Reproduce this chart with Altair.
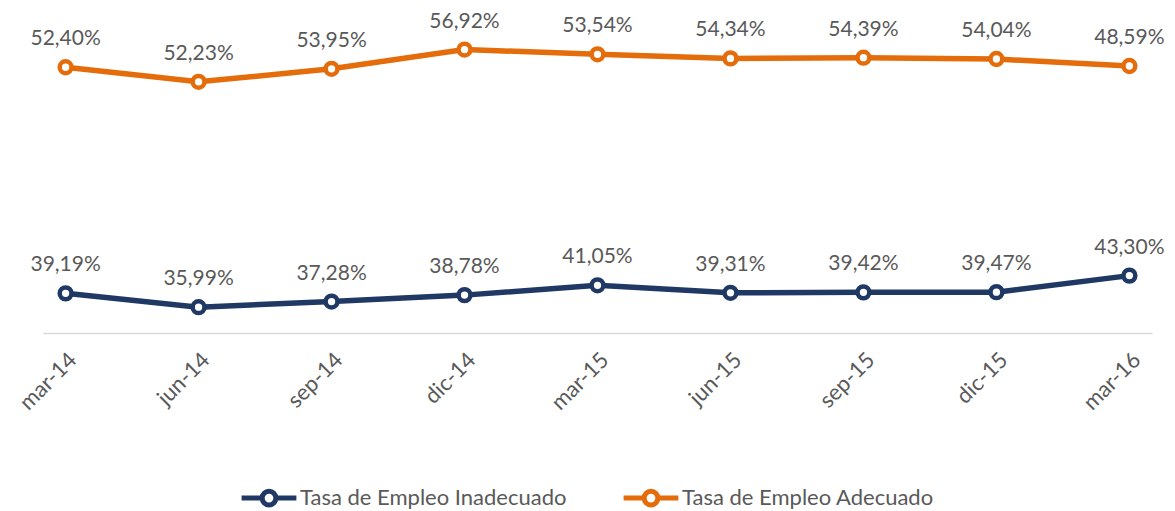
import altair as alt
import pandas as pd

periods = ["mar-14", "jun-14", "sep-14", "dic-14", "mar-15", "jun-15", "sep-15", "dic-15", "mar-16"]
inadecuado = [39.19, 35.99, 37.28, 38.78, 41.05, 39.31, 39.42, 39.47, 43.30]
adecuado = [52.40, 52.23, 53.95, 56.92, 53.54, 54.34, 54.39, 54.04, 48.59]
series_names = ["Tasa de Empleo Inadecuado", "Tasa de Empleo Adecuado"]
colors = ["#1F3864", "#E46C0A"]

rows = []
for i, p in enumerate(periods):
    for order, (name, vals) in enumerate(zip(series_names, [inadecuado, adecuado])):
        v = vals[i]
        rows.append({"periodo": p, "serie": name, "valor": v, "ord": order,
                     "etiqueta": f"{v:.2f}".replace(".", ",") + "%"})
df = pd.DataFrame(rows)

FONT = "Lato"
TXT = "#595959"

base = alt.Chart(df).transform_window(
    acum="sum(valor)", groupby=["periodo"], sort=[alt.SortField("ord")], frame=[None, 0]
)

x = alt.X("periodo:N", sort=periods, title=None,
          scale=alt.Scale(type="point", padding=0.17),
          axis=alt.Axis(labelAngle=-45, labelFontSize=22, labelColor=TXT, labelFont=FONT,
                        ticks=False, domainColor="#D9D9D9", domainWidth=1.5, labelPadding=16,
                        grid=False))
y = alt.Y("acum:Q", scale=alt.Scale(domain=[30, 100], nice=False, zero=False), axis=None)
color = alt.Color("serie:N", sort=series_names,
                  scale=alt.Scale(domain=series_names, range=colors),
                  legend=alt.Legend(title=None, orient="none", direction="horizontal",
                                    legendX=196, legendY=437,
                                    labelFont=FONT, labelFontSize=22, labelColor=TXT,
                                    labelLimit=500,
                                    symbolType="M-1,0H-0.25M0.25,0H1M0.25,0A0.25,0.25 0 1,1 -0.25,0A0.25,0.25 0 1,1 0.25,0Z",
                                    symbolSize=3000, symbolStrokeWidth=5, symbolFillColor="white",
                                    columnPadding=46, labelOffset=1))

lines = base.mark_line(strokeWidth=5.5).encode(x=x, y=y, color=color, detail="serie:N")
points = base.mark_point(filled=True, fill="white", size=140, strokeWidth=4.5, opacity=1).encode(
    x=x, y=y, stroke=alt.Stroke("serie:N", scale=alt.Scale(domain=series_names, range=colors), legend=None))
labels = base.mark_text(font=FONT, fontSize=21, color=TXT, dy=-28, baseline="middle").encode(
    x=x, y=y, text="etiqueta:N")

chart = alt.layer(lines, points, labels).properties(
    width=1109, height=302,
    autosize=alt.AutoSizeParams(type="none"),
    padding={"left": 35, "top": 23, "right": 15, "bottom": 178},
).configure_view(stroke=None)

chart.save("out.html", embed_options={"renderer": "svg", "actions": False})
